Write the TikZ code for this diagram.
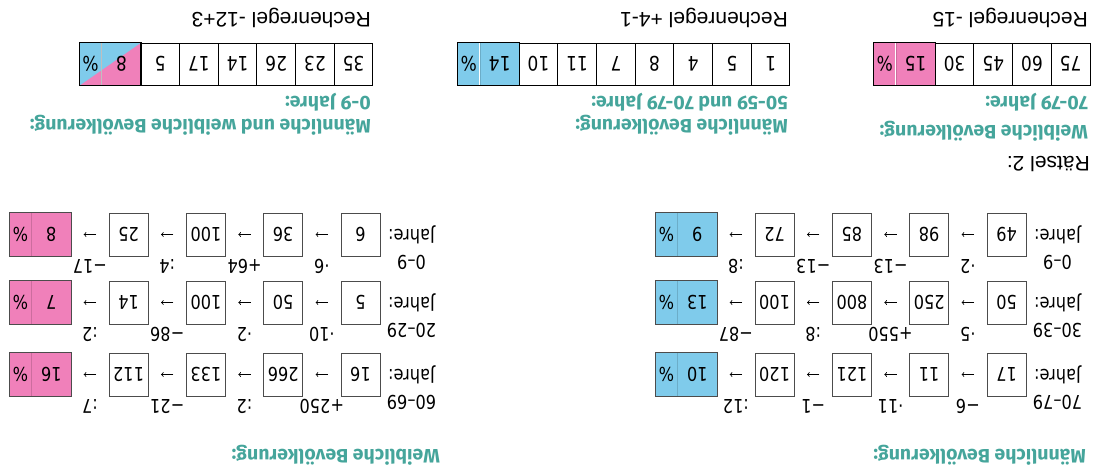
\documentclass[tikz,border=0pt]{standalone}
\usepackage{fontspec}
\setmainfont{Liberation Sans}
\newfontfamily\ziffern[FakeStretch=0.85]{DejaVu Sans}
\newfontfamily\fett{Fira Sans}
\usetikzlibrary{calc,positioning,arrows,backgrounds}

\definecolor{tuerkis}{RGB}{69,165,155}
\definecolor{blau}{RGB}{127,203,235}
\definecolor{rosa}{RGB}{240,128,186}

\tikzset{
  txt/.style={inner sep=0pt, font=\ziffern\fontsize{19}{22}\selectfont},
  op/.style={txt, yshift=32pt},
  zahl/.style={draw=black!70, line width=0.9pt, minimum width=39pt, minimum height=43pt,
    inner sep=0pt, font=\ziffern\fontsize{19}{22}\selectfont},
  prz/.style={zahl, draw=none, minimum width=21pt},
  zelle/.style={draw, line width=1pt, minimum width=38.7pt, minimum height=42pt,
    inner sep=0pt, font=\ziffern\fontsize{20}{24}\selectfont},
  pzelle/.style={zelle, draw=none, minimum width=21pt, anchor=west},
  kopf/.style={inner sep=0pt, anchor=base west, text=tuerkis,
    font=\fett\bfseries\fontsize{19.5}{23}\selectfont},
  regel/.style={inner sep=0pt, anchor=base west, font=\fontsize{21}{25}\selectfont},
  pfeil/.style={->, line width=0.8pt, shorten >=12.5pt, shorten <=12.5pt},
  rahmen/.style={draw=black!70, line width=0.9pt},
  rand/.style={line width=1pt},
  teiler/.style={line width=0.4pt, black!25}
}

\begin{document}
\begin{tikzpicture}[x=1pt, y=1pt, rotate=180, transform shape]
\useasboundingbox (0,0) rectangle (1110,466);

% Raetsel 1: Zeilen mit Rechenketten
\node[kopf] (mk) at (24,449) {Männliche Bevölkerung:};
\node[kopf] (wk) at (670,449) {Weibliche Bevölkerung:};

\foreach \nm/\x/\y/\lab/\a/\b/\c/\d/\p/\oa/\ob/\oc/\od/\col in {
  mA/0/374.5/70–79/17/11/121/120/10/−6/·11/−1/:12/blau,
  mB/0/302.5/30–39/50/250/800/100/13/·5/+550/:8/−87/blau,
  mC/0/234.5/0–9/49/98/85/72/9/·2/−13/−13/:8/blau,
  wA/646/374.5/60–69/16/266/133/112/16/+250/:2/−21/:7/rosa,
  wB/646/302.5/20–29/5/50/100/14/7/·10/·2/−86/:2/rosa,
  wC/646/234.5/0–9/6/36/100/25/8/·6/+64/:4/−17/rosa}
{
  \node[txt, anchor=west] (\nm j) at (\x+29,\y) {Jahre:};
  \node[txt] (\nm l) at ($(\nm j)+(0,28)$) {\lab};
  \foreach \v [count=\i] in {\a,\b,\c,\d}
    \node[zahl] (\nm\i) at (\x+26.2+77.3*\i,\y) {\v};
  \node[zahl, fill=\col, draw=none] (\nm5) at (\x+412.7,\y) {\p};
  \node[prz, fill=\col, anchor=west] (\nm6) at (\nm5.east) {\%};
  \draw[teiler, \col!85!black] (\nm5.north east) -- (\nm5.south east);
  \draw[rahmen] (\nm5.north west) rectangle (\nm6.south east);
  \foreach \o [count=\i] in {\oa,\ob,\oc,\od} {
    \pgfmathtruncatemacro\j{\i+1}
    \draw[pfeil] (\nm\i) -- node[op] (\nm o\i) {\o} (\nm\j);
  }
}

% Raetsel 2
\node[regel] (raetsel) at (20,156) {Rätsel 2:};

% weiblich 70-79
\node[kopf] (wkopf) at (22,125) {Weibliche Bevölkerung:};
\node[kopf] (walter) at (22,96) {70-79 Jahre:};
\foreach \v [count=\i] in {75,60,45,30}
  \node[zelle] (w\i) at (0.65+38.7*\i,64) {\v};
\node[zelle, fill=rosa, draw=none] (w5) at (194.35,64) {15};
\node[pzelle, fill=rosa] (w6) at (w5.east) {\%};
\draw[teiler, rosa!85!black] (w5.north east) -- (w5.south east);
\draw[rand] (w5.north west) rectangle (w6.south east);
\node[regel] (wregel) at (22,12) {Rechenregel -15};

% maennlich 50-59 und 70-79
\node[kopf] (mkopf) at (322,119) {Männliche Bevölkerung:};
\node[kopf] (malter) at (322,96) {50-59 und 70-79 Jahre:};
\foreach \v [count=\i] in {1,5,4,8,7,11,10}
  \node[zelle] (m\i) at (300.65+38.7*\i,64) {\v};
\node[zelle, fill=blau, draw=none] (m8) at (610.25,64) {14};
\node[pzelle, fill=blau] (m9) at (m8.east) {\%};
\draw[teiler, blau!85!black] (m8.north east) -- (m8.south east);
\draw[rand] (m8.north west) rectangle (m9.south east);
\node[regel] (mregel) at (322,12) {Rechenregel +4-1};

% beide 0-9
\node[kopf] (bkopf) at (739,119) {Männliche und weibliche Bevölkerung:};
\node[kopf] (balter) at (739,96) {0-9 Jahre:};
\foreach \v [count=\i] in {35,23,26,14,17,5}
  \node[zelle] (b\i) at (717.65+38.7*\i,64) {\v};
\node[zelle, draw=none] (b7) at (988.55,64) {8};
\node[pzelle] (b8) at (b7.east) {\%};
\begin{scope}[on background layer]
  \fill[rosa] (b7.north west) rectangle (b8.south east);
  \fill[blau] (b7.south west) -- (b8.south east) -- (b8.north east) -- cycle;
\end{scope}
\draw[teiler] (b7.north east) -- (b7.south east);
\draw[rand] (b7.north west) rectangle (b8.south east);
\node[regel] (bregel) at (739,12) {Rechenregel -12+3};

\end{tikzpicture}
\end{document}
